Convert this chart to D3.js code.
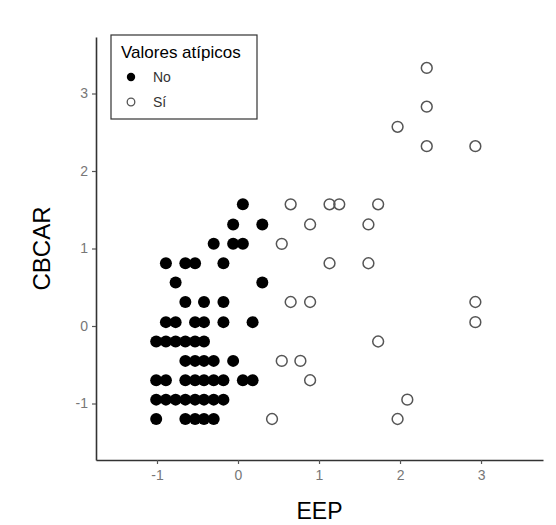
<!DOCTYPE html>
<html>
<head>
<meta charset="utf-8">
<script src="https://cdn.jsdelivr.net/npm/d3@7"></script>
<style>
  body { margin: 0; background: #fff; }
  svg { font-family: "Liberation Sans", Arial, sans-serif; }
</style>
</head>
<body>
<svg id="chart"></svg>
<script>
// "No" group (filled)
const noEEP = [
  0.06,
  -0.06, 0.30,
  -0.30, -0.06, 0.06,
  -0.89, -0.65, -0.53, -0.18,
  -0.77, 0.30,
  -0.65, -0.42, -0.18,
  -0.89, -0.77, -0.53, -0.42, -0.18, 0.18,
  -1.01, -0.89, -0.77, -0.65, -0.53, -0.42,
  -0.65, -0.53, -0.42, -0.30, -0.06,
  -1.01, -0.89, -0.65, -0.53, -0.42, -0.30, -0.18, 0.06, 0.18,
  -1.01, -0.89, -0.77, -0.65, -0.53, -0.42, -0.30, -0.18,
  -1.01, -0.65, -0.53, -0.42, -0.30
];
const noCBCAR = [
  1.57,
  1.31, 1.31,
  1.06, 1.06, 1.06,
  0.81, 0.81, 0.81, 0.81,
  0.56, 0.56,
  0.31, 0.31, 0.31,
  0.05, 0.05, 0.05, 0.05, 0.05, 0.05,
  -0.20, -0.20, -0.20, -0.20, -0.20, -0.20,
  -0.45, -0.45, -0.45, -0.45, -0.45,
  -0.70, -0.70, -0.70, -0.70, -0.70, -0.70, -0.70, -0.70, -0.70,
  -0.95, -0.95, -0.95, -0.95, -0.95, -0.95, -0.95, -0.95,
  -1.20, -1.20, -1.20, -1.20, -1.20
];

// "Sí" group (hollow)
const siEEP = [
  0.65, 1.13, 1.25, 1.73,
  0.89, 1.61,
  0.54,
  1.13, 1.61,
  0.65, 0.89, 2.93,
  2.93,
  1.73,
  0.54, 0.77,
  0.89,
  2.09,
  0.42, 1.97,
  2.33, 2.33, 1.97, 2.33, 2.93
];
const siCBCAR = [
  1.57, 1.57, 1.57, 1.57,
  1.31, 1.31,
  1.06,
  0.81, 0.81,
  0.31, 0.31, 0.31,
  0.05,
  -0.20,
  -0.45, -0.45,
  -0.70,
  -0.95,
  -1.20, -1.20,
  3.33, 2.83, 2.57, 2.32, 2.32
];

const xTicks = [-1, 0, 1, 2, 3];
const yTicks = [-1, 0, 1, 2, 3];
const legendLabels = ["No", "Sí"];

const width = 556;
const height = 525;
const margin = { top: 37, right: 13, bottom: 65, left: 96 };

const svg = d3.select("#chart").attr("width", width).attr("height", height);

const xScale = d3.scaleLinear()
  .domain([-1.753, 3.765])
  .range([margin.left, width - margin.right]);

const yScale = d3.scaleLinear()
  .domain([-1.729, 3.729])
  .range([height - margin.bottom, margin.top]);

const fmt = (d) => String(d); // plain hyphen minus, no decimals

// axes
const xAxis = svg.append("g")
  .attr("transform", `translate(0, ${height - margin.bottom})`)
  .call(d3.axisBottom(xScale).tickValues(xTicks).tickFormat(fmt)
    .tickSize(4).tickPadding(6).tickSizeOuter(0));

const yAxis = svg.append("g")
  .attr("transform", `translate(${margin.left}, 0)`)
  .call(d3.axisLeft(yScale).tickValues(yTicks).tickFormat(fmt)
    .tickSize(4).tickPadding(4).tickSizeOuter(0));

[xAxis, yAxis].forEach((ax) => {
  ax.select(".domain").attr("stroke", "#333").attr("stroke-width", 1.6);
  ax.selectAll(".tick line").attr("stroke", "#555").attr("stroke-width", 1.2);
  ax.selectAll(".tick text")
    .attr("fill", "#777")
    .style("font-size", "14px")
    .style("font-family", "Liberation Sans, Arial, sans-serif");
});

// axis labels
svg.append("text")
  .attr("x", (margin.left + width - margin.right) / 2)
  .attr("y", height - 6)
  .attr("text-anchor", "middle")
  .style("font-size", "23px")
  .text("EEP");

svg.append("text")
  .attr("x", -(margin.top + height - margin.bottom) / 2)
  .attr("y", 50)
  .attr("text-anchor", "middle")
  .attr("transform", "rotate(-90)")
  .style("font-size", "24px")
  .text("CBCAR");

// points
svg.append("g")
  .selectAll("circle")
  .data(d3.zip(noEEP, noCBCAR))
  .join("circle")
  .attr("cx", (d) => xScale(d[0]))
  .attr("cy", (d) => yScale(d[1]))
  .attr("r", 6)
  .attr("fill", "#000");

svg.append("g")
  .selectAll("circle")
  .data(d3.zip(siEEP, siCBCAR))
  .join("circle")
  .attr("cx", (d) => xScale(d[0]))
  .attr("cy", (d) => yScale(d[1]))
  .attr("r", 5.4)
  .attr("fill", "none")
  .attr("stroke", "#555")
  .attr("stroke-width", 1.5);

// legend
const legend = svg.append("g").attr("transform", "translate(111, 35)");

legend.append("rect")
  .attr("width", 146)
  .attr("height", 84)
  .attr("fill", "#fff")
  .attr("stroke", "#333")
  .attr("stroke-width", 1.2);

legend.append("text")
  .attr("x", 10)
  .attr("y", 23)
  .style("font-size", "17px")
  .text("Valores atípicos");

legendLabels.forEach((lab, i) => {
  const cy = 42 + i * 25;
  legend.append("circle")
    .attr("cx", 20)
    .attr("cy", cy)
    .attr("r", i === 0 ? 4.2 : 3.8)
    .attr("fill", i === 0 ? "#000" : "none")
    .attr("stroke", i === 0 ? "none" : "#555")
    .attr("stroke-width", 1.3);
  legend.append("text")
    .attr("x", 42)
    .attr("y", cy + 5)
    .attr("fill", "#333")
    .style("font-size", "14px")
    .text(lab);
});
</script>
</body>
</html>
